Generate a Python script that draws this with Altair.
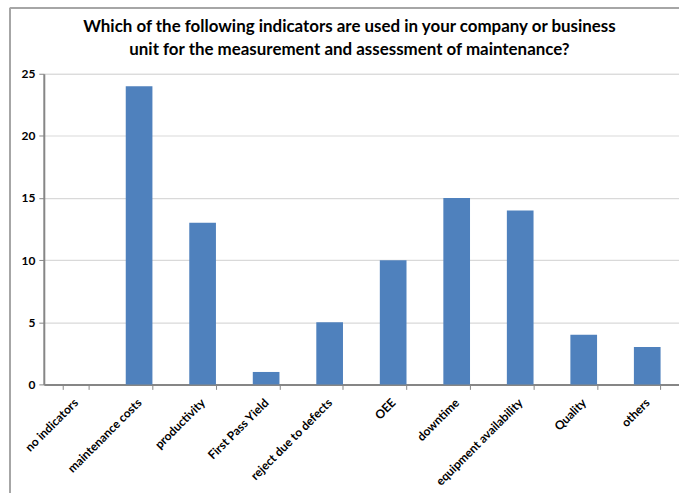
import altair as alt
import pandas as pd

categories = ["no indicators", "maintenance costs", "productivity", "First Pass Yield",
              "reject due to defects", "OEE", "downtime", "equipment availability",
              "Quality", "others"]
values = [0, 24, 13, 1, 5, 10, 15, 14, 4, 3]
y_ticks = [0, 5, 10, 15, 20, 25]

df = pd.DataFrame({"category": categories, "value": values})

FONT = "Lato"

bars = alt.Chart(df).mark_bar(color="#4F81BD").encode(
    x=alt.X("category:N", sort=categories, title=None,
            scale=alt.Scale(paddingInner=0.58, paddingOuter=0.29),
            axis=alt.Axis(labelAngle=-45, labelAlign="right", labelBaseline="middle",
                          labelFont=FONT, labelFontWeight="bold", labelFontSize=12,
                          labelColor="#000000", labelPadding=11,
                          tickBand="extent", tickColor="#868686", tickSize=5,
                          domainColor="#868686", domainWidth=2, grid=False)),
    y=alt.Y("value:Q", title=None,
            scale=alt.Scale(domain=[0, 25], nice=False),
            axis=alt.Axis(values=y_ticks, labelFont=FONT, labelFontWeight="bold",
                          labelFontSize=12, labelColor="#000000", labelPadding=4,
                          tickColor="#868686", tickSize=5,
                          domainColor="#868686", domainWidth=2,
                          gridColor="#D9D9D9", gridWidth=1.2)),
)

border = alt.Chart(df).mark_rule(color="#A6A6A6", strokeWidth=1.5, clip=False).encode(
    x=alt.value(-34), x2=alt.value(-34), y=alt.value(-66), y2=alt.value(421)
)
border_top = alt.Chart(df).mark_rule(color="#A6A6A6", strokeWidth=1.5, clip=False).encode(
    x=alt.value(-34), x2=alt.value(638), y=alt.value(-66)
)

chart = alt.layer(border, border_top, bars).properties(
    width=638, height=312,
    title=alt.TitleParams(
        ["Which of the following indicators are used in your company or business",
         "unit for the measurement and assessment of maintenance?"],
        font=FONT, fontSize=17, fontWeight="bold", color="#000000",
        anchor="middle", dx=-12, offset=-52, lineHeight=23),
    autosize=alt.AutoSizeParams(type="none"),
    padding={"left": 44, "top": 73, "right": 0, "bottom": 109},
).configure_view(stroke="#868686", strokeWidth=1).configure(background="white")

chart.save("out.html", embed_options={"renderer": "svg", "actions": False})
